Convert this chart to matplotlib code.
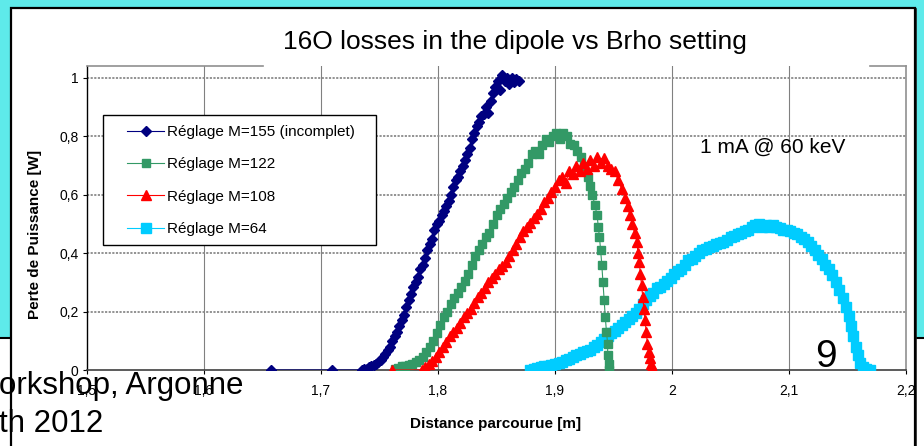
import matplotlib
matplotlib.use("Agg")
import matplotlib.pyplot as plt
from matplotlib.patches import Rectangle
from matplotlib.lines import Line2D
from matplotlib.ticker import FixedLocator, FuncFormatter

# ---- data -------------------------------------------------------------
series_labels = ["Réglage M=155 (incomplet)", "Réglage M=122",
                 "Réglage M=108", "Réglage M=64"]

m155_x = [1.657, 1.709, 1.735, 1.737, 1.739, 1.741, 1.743, 1.745, 1.747, 1.749,
          1.751, 1.753, 1.755, 1.757, 1.759, 1.761, 1.763, 1.765, 1.767, 1.769,
          1.771, 1.773, 1.775, 1.777, 1.779, 1.781, 1.783, 1.785, 1.787, 1.789,
          1.791, 1.793, 1.795, 1.797, 1.799, 1.801, 1.803, 1.805, 1.807, 1.809,
          1.811, 1.813, 1.815, 1.817, 1.819, 1.821, 1.823, 1.825, 1.827, 1.829,
          1.831, 1.833, 1.835, 1.837, 1.839, 1.841, 1.843, 1.845, 1.847, 1.849,
          1.851, 1.853, 1.855, 1.857, 1.859, 1.861, 1.863, 1.865, 1.867, 1.869]
m155_y = [0.0, 0.0, 0.0, 0.003, 0.005, 0.010, 0.012, 0.018, 0.022, 0.028,
          0.035, 0.045, 0.055, 0.070, 0.080, 0.100, 0.115, 0.130, 0.150, 0.170,
          0.190, 0.215, 0.240, 0.260, 0.285, 0.300, 0.320, 0.345, 0.360, 0.385,
          0.410, 0.430, 0.450, 0.480, 0.500, 0.510, 0.530, 0.545, 0.560, 0.580,
          0.600, 0.625, 0.650, 0.660, 0.680, 0.700, 0.720, 0.740, 0.760, 0.790,
          0.810, 0.835, 0.850, 0.870, 0.875, 0.900, 0.880, 0.920, 0.950, 0.970,
          0.990, 0.960, 1.010, 0.990, 1.000, 0.980, 1.000, 0.985, 0.995, 0.990]

m122_x = [1.763, 1.766, 1.769, 1.772, 1.775, 1.778, 1.781, 1.784, 1.787, 1.790,
          1.793, 1.796, 1.799, 1.802, 1.805, 1.808, 1.811, 1.814, 1.817, 1.820,
          1.823, 1.826, 1.829, 1.832, 1.835, 1.838, 1.841, 1.844, 1.847, 1.850,
          1.853, 1.856, 1.859, 1.862, 1.865, 1.868, 1.871, 1.874, 1.877, 1.880,
          1.883, 1.886, 1.889, 1.892, 1.895, 1.898, 1.901, 1.904, 1.907, 1.910,
          1.913, 1.916, 1.919, 1.922, 1.925, 1.928, 1.930, 1.932, 1.934, 1.936,
          1.937, 1.938, 1.939, 1.940, 1.941, 1.942, 1.943, 1.944, 1.945, 1.945,
          1.946, 1.946]
m122_y = [0.005, 0.008, 0.012, 0.015, 0.018, 0.022, 0.028, 0.035, 0.045, 0.060,
          0.080, 0.100, 0.125, 0.155, 0.180, 0.200, 0.225, 0.245, 0.265, 0.285,
          0.305, 0.330, 0.360, 0.390, 0.410, 0.430, 0.455, 0.470, 0.500, 0.530,
          0.550, 0.570, 0.590, 0.610, 0.625, 0.650, 0.675, 0.690, 0.710, 0.740,
          0.750, 0.740, 0.770, 0.790, 0.780, 0.800, 0.810, 0.790, 0.810, 0.800,
          0.775, 0.770, 0.750, 0.730, 0.700, 0.660, 0.630, 0.600, 0.565, 0.530,
          0.490, 0.455, 0.410, 0.360, 0.300, 0.240, 0.180, 0.130, 0.090, 0.050,
          0.020, 0.0]

m108_x = [1.761, 1.786, 1.789, 1.792, 1.795, 1.798, 1.801, 1.804, 1.807, 1.810,
          1.813, 1.816, 1.819, 1.822, 1.825, 1.828, 1.831, 1.834, 1.837, 1.840,
          1.843, 1.846, 1.849, 1.852, 1.855, 1.858, 1.861, 1.864, 1.867, 1.870,
          1.873, 1.876, 1.879, 1.882, 1.885, 1.888, 1.891, 1.894, 1.897, 1.900,
          1.903, 1.906, 1.909, 1.912, 1.915, 1.918, 1.921, 1.924, 1.927, 1.930,
          1.933, 1.936, 1.939, 1.942, 1.945, 1.948, 1.951, 1.954, 1.957, 1.960,
          1.962, 1.964, 1.966, 1.968, 1.970, 1.971, 1.972, 1.973, 1.974, 1.975,
          1.976, 1.977, 1.978, 1.979, 1.980, 1.981, 1.982, 1.983, 1.984]
m108_y = [0.0, 0.0, 0.010, 0.020, 0.030, 0.045, 0.060, 0.080, 0.095, 0.115,
          0.130, 0.145, 0.160, 0.180, 0.195, 0.210, 0.230, 0.250, 0.265, 0.280,
          0.300, 0.315, 0.330, 0.345, 0.355, 0.370, 0.390, 0.410, 0.430, 0.455,
          0.475, 0.490, 0.505, 0.520, 0.535, 0.550, 0.575, 0.590, 0.610, 0.625,
          0.650, 0.660, 0.640, 0.680, 0.670, 0.700, 0.680, 0.710, 0.690, 0.720,
          0.700, 0.730, 0.710, 0.725, 0.700, 0.690, 0.680, 0.650, 0.620, 0.590,
          0.560, 0.530, 0.500, 0.470, 0.440, 0.400, 0.370, 0.330, 0.290, 0.250,
          0.210, 0.170, 0.130, 0.090, 0.060, 0.040, 0.020, 0.010, 0.0]

m64_x = [1.879, 1.882, 1.885, 1.888, 1.891, 1.894, 1.897, 1.900, 1.903, 1.906,
         1.909, 1.912, 1.915, 1.918, 1.921, 1.924, 1.927, 1.930, 1.933, 1.936,
         1.939, 1.942, 1.945, 1.948, 1.951, 1.954, 1.957, 1.960, 1.963, 1.966,
         1.969, 1.972, 1.975, 1.978, 1.981, 1.984, 1.987, 1.990, 1.993, 1.996,
         1.999, 2.002, 2.005, 2.008, 2.011, 2.014, 2.017, 2.020, 2.023, 2.026,
         2.029, 2.032, 2.035, 2.038, 2.041, 2.044, 2.047, 2.050, 2.053, 2.056,
         2.059, 2.062, 2.065, 2.068, 2.071, 2.074, 2.077, 2.080, 2.083, 2.086,
         2.089, 2.092, 2.095, 2.098, 2.101, 2.104, 2.107, 2.110, 2.113, 2.116,
         2.119, 2.122, 2.125, 2.128, 2.131, 2.134, 2.137, 2.140, 2.143, 2.146,
         2.149, 2.151, 2.153, 2.155, 2.157, 2.159, 2.161, 2.163, 2.166, 2.169]
m64_y = [0.0, 0.003, 0.006, 0.010, 0.012, 0.015, 0.017, 0.020, 0.024, 0.028,
         0.033, 0.038, 0.045, 0.050, 0.056, 0.060, 0.065, 0.070, 0.078, 0.085,
         0.095, 0.105, 0.115, 0.125, 0.135, 0.145, 0.155, 0.165, 0.175, 0.185,
         0.195, 0.210, 0.225, 0.240, 0.255, 0.265, 0.280, 0.285, 0.295, 0.305,
         0.315, 0.330, 0.340, 0.345, 0.360, 0.375, 0.380, 0.390, 0.400, 0.410,
         0.415, 0.420, 0.425, 0.430, 0.435, 0.440, 0.445, 0.455, 0.460, 0.465,
         0.470, 0.475, 0.480, 0.490, 0.495, 0.500, 0.490, 0.495, 0.490, 0.495,
         0.490, 0.485, 0.480, 0.480, 0.475, 0.470, 0.465, 0.455, 0.450, 0.440,
         0.425, 0.410, 0.395, 0.380, 0.360, 0.345, 0.325, 0.300, 0.275, 0.245,
         0.215, 0.185, 0.150, 0.115, 0.080, 0.050, 0.025, 0.010, 0.003, 0.0]

x_ticks = [1.5, 1.6, 1.7, 1.8, 1.9, 2.0, 2.1, 2.2]
y_ticks = [0.0, 0.2, 0.4, 0.6, 0.8, 1.0]

# ---- fonts / colours ------------------------------------------------------
REG = ["Liberation Sans", "DejaVu Sans"]
SLIDE_BG = "#5EEAEA"
NAVY, GREEN, RED, CYAN = "#000080", "#339966", "#FF0000", "#00CCFF"

W, H = 924, 446
fig = plt.figure(figsize=(W / 100, H / 100), dpi=100)
fig.patch.set_facecolor(SLIDE_BG)

def fx(px):
    return px / W

def fy(py):
    return 1 - py / H

# slide footer strips and chart frame
for x0, x1 in [(0, 10.5), (914.5, W)]:
    fig.patches.append(Rectangle((fx(x0), 0), fx(x1) - fx(x0), fy(338), transform=fig.transFigure,
                                 facecolor="white", edgecolor="none", zorder=0))
    fig.lines.append(Line2D([fx(x0), fx(x1)], [fy(338), fy(338)], transform=fig.transFigure,
                            color="black", lw=1.5, zorder=1))
fig.patches.append(Rectangle((fx(10.5), -0.02), fx(914.5) - fx(10.5), fy(8) + 0.02,
                             transform=fig.transFigure, facecolor="white",
                             edgecolor="black", lw=1.6, zorder=1))
fig.lines.append(Line2D([fx(915.5), fx(915.5)], [0, fy(9)], transform=fig.transFigure,
                        color="#222222", lw=1.2, zorder=1))

AX_L, AX_R, AX_T, AX_B = 87, 906, 66, 370
ax = fig.add_axes([fx(AX_L), fy(AX_B), fx(AX_R) - fx(AX_L), fy(AX_T) - fy(AX_B)])
ax.set_facecolor("white")
ax.set_zorder(2)

def axx(px):
    return (px - AX_L) / (AX_R - AX_L)

def axy(py):
    return (AX_B - py) / (AX_B - AX_T)

ax.plot(m64_x, m64_y, color=CYAN, marker="s", ms=7.0, mec=CYAN, lw=0.8, zorder=3,
        label=series_labels[3])
ax.plot(m155_x, m155_y, color=NAVY, marker="D", ms=5.6, mec=NAVY, lw=0.8, zorder=4,
        label=series_labels[0])
ax.plot(m122_x, m122_y, color=GREEN, marker="s", ms=5.6, mec=GREEN, lw=0.8, zorder=5,
        label=series_labels[1])
ax.plot(m108_x, m108_y, color=RED, marker="^", ms=7.0, mec=RED, lw=0.8, zorder=6,
        label=series_labels[2])

ax.set_xlim(1.5, 2.2)
ax.set_ylim(0, 1.041)
ax.xaxis.set_major_locator(FixedLocator(x_ticks))
ax.yaxis.set_major_locator(FixedLocator(y_ticks))
fmt = FuncFormatter(lambda v, p: ("%g" % round(v, 2)).replace(".", ","))
ax.xaxis.set_major_formatter(fmt)
ax.yaxis.set_major_formatter(fmt)

for v in x_ticks[1:-1]:
    ax.axvline(v, color="#808080", lw=0.8, zorder=1)
for v in y_ticks[1:]:
    ax.axhline(v, color="#8a8a8a", lw=1.3, ls=(0, (1.2, 0.8)), zorder=1)

ax.spines["top"].set_visible(False)
ax.spines["right"].set_color("#909090")
ax.spines["right"].set_linewidth(1.2)
ax.spines["left"].set_color("black")
ax.spines["left"].set_linewidth(1.0)
ax.spines["bottom"].set_color("#404040")
ax.spines["bottom"].set_linewidth(1.2)
for a0, a1 in [(axx(87), axx(263)), (axx(870), axx(906))]:
    ax.plot([a0, a1], [1, 1], transform=ax.transAxes, color="#909090", lw=1.2,
            clip_on=False, zorder=7)

ax.tick_params(axis="both", direction="out", length=3, width=0.8, color="black")
ax.tick_params(axis="x", pad=7, labelsize=10)
ax.tick_params(axis="y", pad=3, labelsize=10)
for lab in ax.get_xticklabels() + ax.get_yticklabels():
    lab.set_family(REG)

ax.set_xlabel("Distance parcourue [m]", family=REG, fontsize=11, fontweight="bold")
ax.set_ylabel("Perte de Puissance [W]", family=REG, fontsize=11, fontweight="bold")
ax.xaxis.set_label_coords(axx(496), axy(417))
ax.yaxis.set_label_coords(axx(42), axy(234))

# legend: entries without frame, box drawn separately
handles, labels = ax.get_legend_handles_labels()
order = [1, 2, 3, 0]
leg = ax.legend([handles[i] for i in order], [labels[i] for i in order],
                loc="upper left", bbox_to_anchor=(axx(127), axy(125)),
                borderaxespad=0, borderpad=0, frameon=False,
                prop={"family": REG, "size": 11}, handlelength=2.45,
                labelspacing=1.2, handletextpad=0.15)
leg.set_zorder(11)
ax.add_patch(Rectangle((axx(103), axy(245)), axx(376) - axx(103), axy(115) - axy(245),
                       transform=ax.transAxes, facecolor="white", edgecolor="black",
                       lw=1.0, zorder=10))

ax.text(axx(773), axy(147), "1 mA @ 60 keV", transform=ax.transAxes,
        ha="center", va="center", family=REG, fontsize=15, zorder=10)

fig.text(fx(515), fy(42), "16O losses in the dipole vs Brho setting", ha="center",
         va="center", family=REG, fontsize=19, zorder=5)

# slide footer text on top of everything
fig.text(fx(-1), fy(386), "orkshop, Argonne", ha="left", va="center", family=REG,
         fontsize=22.5, zorder=20)
fig.text(fx(-1), fy(424), "th 2012", ha="left", va="center", family=REG,
         fontsize=22.5, zorder=20)
fig.text(fx(826), fy(357), "9", ha="center", va="center", family=REG,
         fontsize=28, zorder=20)

fig.savefig("out.png", dpi=100, facecolor=fig.get_facecolor())
